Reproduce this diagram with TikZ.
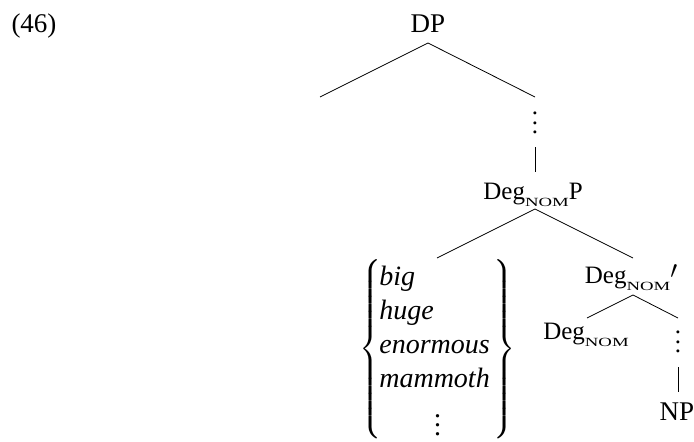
\RequirePackage{fix-cm}
\documentclass[tikz,border=0pt]{standalone}
\usepackage{exscale}
\usepackage{fontspec}
\setmainfont{Liberation Serif}
\usepackage{graphicx}
% small-caps style subscript used in the category labels
\newcommand\nomsub{\raisebox{-7pt}{\scalebox{1.5}[1]{\fontsize{12.5}{12.5}\selectfont NOM}}}
% widely spaced vertical ellipsis
\newcommand\tallvdots{\vbox{\baselineskip=9.3pt\lineskiplimit=-20pt\hbox{.}\hbox{.}\hbox{.}}}
\begin{document}
\begin{tikzpicture}[x=1pt,y=-1pt,
  lbl/.style={inner sep=0pt, anchor=base, font=\fontsize{25}{30}\selectfont},
  biglbl/.style={lbl, font=\fontsize{27}{32}\selectfont},
  vdts/.style={inner sep=0pt, font=\fontsize{25}{30}\selectfont},
  branch/.style={line width=0.8pt}]
\useasboundingbox (0,0) rectangle (694,442);

% example number
\node[biglbl] (ex) at (34,32) {(46)};

% root
\node[biglbl] (dp) at (428,32) {DP};
\coordinate (dpFoot) at (428,43);
\coordinate (specEnd) at (320,97);
\coordinate (compEnd) at (535,97);
\draw[branch] (specEnd) -- (dpFoot) -- (compEnd);

\node[vdts] (dotsA) at (535,123) {\tallvdots};
\coordinate (stemATop) at (535,147);
\coordinate (stemABot) at (535,172);
\draw[branch] (stemATop) -- (stemABot);

% DegP
\node[lbl] (degp) at (533,199) {Deg\nomsub P};
\coordinate (degpFoot) at (535,209);
\coordinate (adjEnd) at (437,258);
\coordinate (barEnd) at (633,258);
\draw[branch] (adjEnd) -- (degpFoot) -- (barEnd);

% set of adjectives in braces
\node[inner sep=0pt, anchor=west, font=\fontsize{28}{34}\selectfont] (adjs) at (359,349)
  {$\left\{\begin{tabular}{@{\hspace{-2pt}}l@{\hspace{4pt}}}
    \textit{big}\\ \textit{huge}\\ \textit{enormous}\\ \textit{mammoth}\\
    \multicolumn{1}{c}{\raisebox{-14pt}{\tallvdots}}
  \end{tabular}\right\}$};

% Deg-bar
\node[lbl] (degbar) at (631,283) {Deg\nomsub\raisebox{5pt}{$\prime$}};
\coordinate (degbarFoot) at (633,295);
\coordinate (headEnd) at (587,318);
\coordinate (compBEnd) at (678,318);
\draw[branch] (headEnd) -- (degbarFoot) -- (compBEnd);

\node[lbl] (deghead) at (586,339) {Deg\nomsub};

\node[vdts] (dotsB) at (678,342) {\tallvdots};
\coordinate (stemBTop) at (678,367);
\coordinate (stemBBot) at (678,392);
\draw[branch] (stemBTop) -- (stemBBot);

\node[biglbl] (np) at (677,420) {NP};
\end{tikzpicture}
\end{document}
